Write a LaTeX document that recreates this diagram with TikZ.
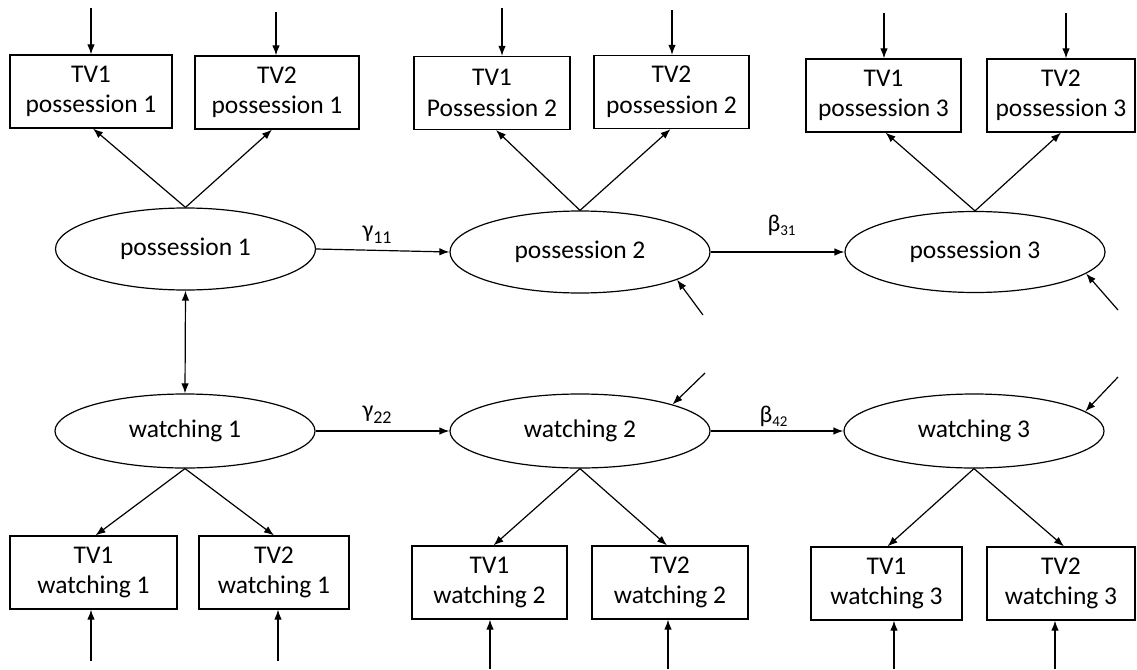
\documentclass[tikz,border=0pt]{standalone}
\usepackage{fontspec}
\setmainfont{Carlito}
\usetikzlibrary{arrows.meta,shapes.geometric}

\begin{document}
\begin{tikzpicture}[x=1pt,y=-1pt,
  font=\fontsize{25.5}{30.5}\selectfont,
  line width=1.2pt,
  arr/.style={-{Latex[length=10pt,width=7.5pt]}},
  dbl/.style={{Latex[length=10pt,width=7.5pt]}-{Latex[length=10pt,width=7.5pt]}},
  obs/.style={draw, rectangle, inner sep=0pt, minimum height=73pt, align=center},
  lat/.style={draw, ellipse, inner sep=0pt, minimum width=260pt},
  coef/.style={inner sep=0pt, font=\fontsize{24}{24}\selectfont}]
\useasboundingbox (0,0) rectangle (1137,669);

% latent variables
\node[lat, minimum height=82pt] (p1) at (185.5,249) {possession 1};
\node[lat, minimum height=82pt] (p2) at (580,252) {possession 2};
\node[lat, minimum height=81pt] (p3) at (975,252) {possession 3};
\node[lat, minimum height=74pt] (w1) at (185,431) {watching 1};
\node[lat, minimum height=74pt] (w2) at (580,431) {watching 2};
\node[lat, minimum height=74pt] (w3) at (974,431) {watching 3};

% indicators of possession
\node[obs, minimum width=162pt] (p1a) at (91,91.5) {TV1\\possession 1};
\node[obs, minimum width=164pt] (p1b) at (277,92.5) {TV2\\possession 1};
\node[obs, minimum width=156pt] (p2a) at (492,93) {TV1\\Possession 2};
\node[obs, minimum width=155pt] (p2b) at (671.5,92) {TV2\\possession 2};
\node[obs, minimum width=155pt] (p3a) at (883.5,95.5) {TV1\\possession 3};
\node[obs, minimum width=148pt] (p3b) at (1061,95.5) {TV2\\possession 3};

% indicators of watching
\node[obs, minimum width=167pt] (w1a) at (93.5,572.5) {TV1\\watching 1};
\node[obs, minimum width=150pt] (w1b) at (274,572.5) {TV2\\watching 1};
\node[obs, minimum width=155pt] (w2a) at (489.5,582.5) {TV1\\watching 2};
\node[obs, minimum width=156pt] (w2b) at (670,582.5) {TV2\\watching 2};
\node[obs, minimum width=151pt] (w3a) at (886.5,583.5) {TV1\\watching 3};
\node[obs, minimum width=148pt] (w3b) at (1061,583.5) {TV2\\watching 3};

% error terms of the indicators
\coordinate (ep1a) at (91,8);
\coordinate (ep1b) at (276,12);
\coordinate (ep2a) at (502,8);
\coordinate (ep2b) at (672,10);
\coordinate (ep3a) at (884,13);
\coordinate (ep3b) at (1066,13);
\coordinate (ew1a) at (91,661);
\coordinate (ew1b) at (278,661);
\coordinate (ew2a) at (490,669);
\coordinate (ew2b) at (668,669);
\coordinate (ew3a) at (894,669);
\coordinate (ew3b) at (1055,669);
\foreach \e/\b in {ep1a/p1a,ep1b/p1b,ep2a/p2a,ep2b/p2b,ep3a/p3a,ep3b/p3b}
  \draw[arr] (\e) -- (\e |- \b.north);
\foreach \e/\b in {ew1a/w1a,ew1b/w1b,ew2a/w2a,ew2b/w2b,ew3a/w3a,ew3b/w3b}
  \draw[arr] (\e) -- (\e |- \b.south);

% loadings
\draw[arr] (p1.north) -- ([xshift=2pt]p1a.south);
\draw[arr] (p1.north) -- ([xshift=-5pt]p1b.south);
\draw[arr] (p2.north) -- ([xshift=4pt]p2a.south);
\draw[arr] (p2.north) -- ([xshift=-1pt]p2b.south);
\draw[arr] (p3.north) -- ([xshift=2pt]p3a.south);
\draw[arr] (p3.north) -- (p3b.south);
\draw[arr] (w1.south) -- ([xshift=2pt]w1a.north);
\draw[arr] (w1.south) -- (w1b.north);
\draw[arr] (w2.south) -- ([xshift=4pt]w2a.north);
\draw[arr] (w2.south) -- ([xshift=-3pt]w2b.north);
\draw[arr] (w3.south) -- ([xshift=1pt]w3a.north);
\draw[arr] (w3.south) -- ([xshift=3pt]w3b.north);

% structural paths
\draw[dbl] (p1.south) -- (w1.north);
\draw[arr] (p1.east) -- (p2.west);
\draw[arr] (p2.east) -- (p3.west);
\draw[arr] (w1.east) -- (w2.west);
\draw[arr] (w2.east) -- (w3.west);

\node[coef, anchor=base west] (g11) at (362,237) {γ\raisebox{-6pt}{\fontsize{18}{18}\selectfont 11}};
\node[coef, anchor=base west] (g22) at (362,417) {γ\raisebox{-6pt}{\fontsize{18}{18}\selectfont 22}};
\node[coef, anchor=base west] (b31) at (767,231) {β\raisebox{-4pt}{\fontsize{15}{15}\selectfont 31}};
\node[coef, anchor=base west] (b42) at (759,422) {β\raisebox{-4pt}{\fontsize{15}{15}\selectfont 42}};

% disturbances
\coordinate (dp2) at (703,315);
\coordinate (dp3) at (1118,310);
\coordinate (dw2) at (705,373);
\coordinate (dw3) at (1118,377);
\draw[arr] (dp2) -- (p2.-16);
\draw[arr] (dp3) -- (p3.-11);
\draw[arr] (dw2) -- (w2.16);
\draw[arr] (dw3) -- (w3.10);
\end{tikzpicture}
\end{document}
